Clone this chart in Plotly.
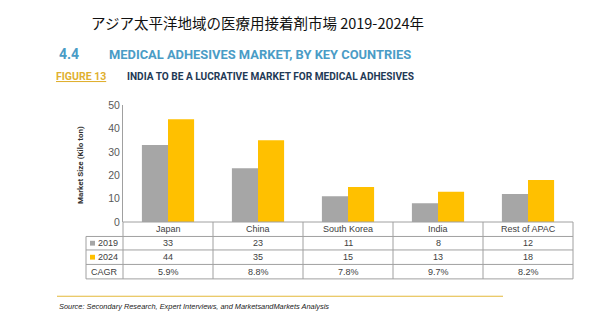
import plotly.graph_objects as go

categories = ["Japan", "China", "South Korea", "India", "Rest of APAC"]
values_2019 = [33, 23, 11, 8, 12]
values_2024 = [44, 35, 15, 13, 18]
cagr = ["5.9%", "8.8%", "7.8%", "9.7%", "8.2%"]
y_ticks = [0, 10, 20, 30, 40, 50]

W, H = 609, 336
GRAY = "#a6a6a6"
GOLD = "#ffc000"
LINE = "#a0a0a0"
TXT = "#404040"

def px(x):
    return x / W

def py(y):
    return 1 - y / H

fig = go.Figure()
fig.add_trace(go.Bar(x=categories, y=values_2019, name="2019", marker=dict(color=GRAY, line=dict(width=0))))
fig.add_trace(go.Bar(x=categories, y=values_2024, name="2024", marker=dict(color=GOLD, line=dict(width=0))))

x0p, x1p = 123, 573
y_zero, y_top = 224, 103
fig.update_layout(
    width=W, height=H, margin=dict(l=0, r=0, t=0, b=0),
    paper_bgcolor="white", plot_bgcolor="white",
    showlegend=False, barmode="group", bargap=0.42, bargroupgap=0,
    xaxis=dict(domain=[px(x0p), px(x1p)], showticklabels=False, showgrid=False, zeroline=False, showline=False),
    yaxis=dict(domain=[py(y_zero), py(y_top)], range=[0, 50], tickvals=y_ticks, showgrid=False, zeroline=False,
               showline=True, linecolor=LINE, linewidth=1, ticks="", ticklen=0,
               tickfont=dict(family="Liberation Sans, Arial", size=10.5, color="#595959")),
    font=dict(family="Liberation Sans, Arial"),
)

shapes = []
shapes.append(dict(type="line", xref="paper", yref="paper", x0=px(x0p), x1=px(x1p), y0=py(224), y1=py(224), line=dict(color=LINE, width=1)))
for yy in [239, 253, 268, 283]:
    shapes.append(dict(type="line", xref="paper", yref="paper", x0=px(86), x1=px(x1p), y0=py(yy), y1=py(yy), line=dict(color=LINE, width=1)))
col_w = (x1p - x0p) / len(categories)
for i in range(len(categories) + 1):
    xx = x0p + i * col_w
    shapes.append(dict(type="line", xref="paper", yref="paper", x0=px(xx), x1=px(xx), y0=py(224), y1=py(283), line=dict(color=LINE, width=1)))
shapes.append(dict(type="line", xref="paper", yref="paper", x0=px(86), x1=px(86), y0=py(239), y1=py(283), line=dict(color=LINE, width=1)))
shapes.append(dict(type="rect", xref="paper", yref="paper", x0=px(90), x1=px(95), y0=py(243.5), y1=py(248.5), fillcolor=GRAY, line=dict(width=0)))
shapes.append(dict(type="rect", xref="paper", yref="paper", x0=px(90), x1=px(95), y0=py(258), y1=py(263), fillcolor=GOLD, line=dict(width=0)))
shapes.append(dict(type="line", xref="paper", yref="paper", x0=px(57), x1=px(503), y0=py(301), y1=py(301), line=dict(color="#e3b93a", width=1.2)))
fig.update_layout(shapes=shapes)

ann = []
tf = dict(family="Liberation Sans, Arial", size=9, color=TXT)
row_y = [231.5, 246, 260.5, 275.5]
for i, c in enumerate(categories):
    ann.append(dict(x=c, y=py(row_y[0]), xref="x", yref="paper", text=c, showarrow=False, font=tf, xanchor="center", yanchor="middle"))
    ann.append(dict(x=c, y=py(row_y[1]), xref="x", yref="paper", text=str(values_2019[i]), showarrow=False, font=tf, xanchor="center", yanchor="middle"))
    ann.append(dict(x=c, y=py(row_y[2]), xref="x", yref="paper", text=str(values_2024[i]), showarrow=False, font=tf, xanchor="center", yanchor="middle"))
    ann.append(dict(x=c, y=py(row_y[3]), xref="x", yref="paper", text=cagr[i], showarrow=False, font=tf, xanchor="center", yanchor="middle"))
for lbl, yy in [("2019", row_y[1]), ("2024", row_y[2]), ("CAGR", row_y[3])]:
    ann.append(dict(x=px(120), y=py(yy), xref="paper", yref="paper", text=lbl, showarrow=False, font=tf, xanchor="right", yanchor="middle"))

hf = "Liberation Sans, Arial"
rf = "Roboto, Liberation Sans, Arial"
ann.append(dict(x=px(80), y=py(165), xref="paper", yref="paper", text="<b>Market Size (Kilo ton)</b>", textangle=-90, showarrow=False,
                font=dict(family=rf, size=8, color="#333333"), xanchor="center", yanchor="middle"))

ann.append(dict(x=px(257), y=py(17), xref="paper", yref="paper", text="アジア太平洋地域の医療用接着剤市場 2019-2024年", showarrow=False,
                font=dict(family="Noto Sans CJK JP", size=14.5, color="#111111"), xanchor="center", yanchor="middle"))
ann.append(dict(x=px(57), y=py(50), xref="paper", yref="paper", text="<b>4.4</b>", showarrow=False,
                font=dict(family=rf, size=14, color="#4a9cc6"), xanchor="left", yanchor="middle"))
ann.append(dict(x=px(107), y=py(50), xref="paper", yref="paper", text="<b>MEDICAL ADHESIVES MARKET, BY KEY COUNTRIES</b>", showarrow=False,
                font=dict(family=rf, size=12.9, color="#4a9cc6"), xanchor="left", yanchor="middle"))
ann.append(dict(x=px(54), y=py(73), xref="paper", yref="paper", text="<b><u>FIGURE 13</u></b>", showarrow=False,
                font=dict(family=rf, size=10.5, color="#e0b030"), xanchor="left", yanchor="middle"))
ann.append(dict(x=px(125), y=py(73), xref="paper", yref="paper", text="<b>INDIA TO BE A LUCRATIVE MARKET FOR MEDICAL ADHESIVES</b>", showarrow=False,
                font=dict(family=rf, size=10.1, color="#1f3a56"), xanchor="left", yanchor="middle"))
ann.append(dict(x=px(57), y=py(312), xref="paper", yref="paper", text="<i>Source: Secondary Research, Expert Interviews, and MarketsandMarkets Analysis</i>", showarrow=False,
                font=dict(family=hf, size=7.4, color="#222222"), xanchor="left", yanchor="middle"))
fig.update_layout(annotations=ann)

fig.write_html("out.html")
